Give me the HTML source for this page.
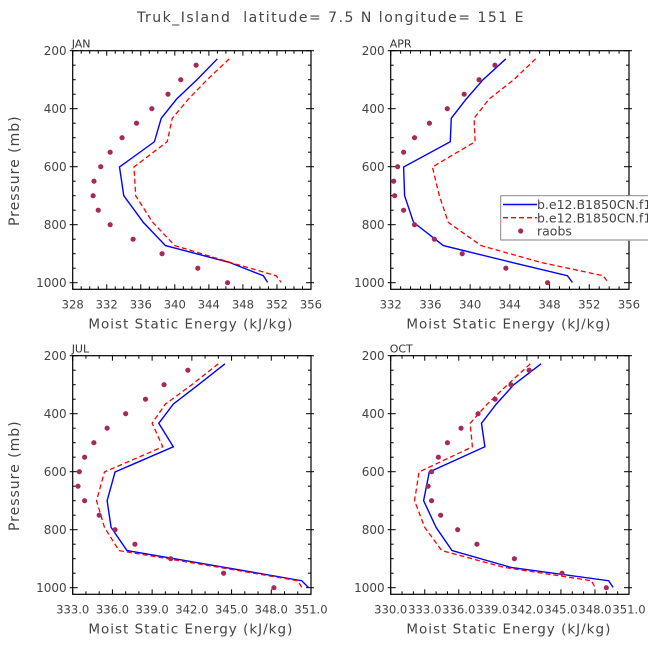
<!DOCTYPE html>
<html><head><meta charset="utf-8"><style>
html,body{margin:0;padding:0;background:#fff;}
svg{display:block;font-family:"DejaVu Sans","Liberation Sans",sans-serif;}
</style></head><body>
<svg id="chart" width="648" height="649" viewBox="0 0 648 649" xmlns="http://www.w3.org/2000/svg">
<text x="331" y="22" text-anchor="middle" font-size="14" letter-spacing="1.5" fill="#444" xml:space="preserve">Truk_Island  latitude= 7.5 N longitude= 151 E</text>
</svg>
<script>
// pressure levels
const modelLevels = [228, 300, 367, 433, 514, 601, 700, 792, 872, 930, 976, 999];
const obsLevels = [250, 300, 350, 400, 450, 500, 550, 600, 650, 700, 750, 800, 850, 900, 950, 1000];
const yTicks = [200, 400, 600, 800, 1000];
// JAN
const janBlue = [345.0, 342.6, 340.2, 338.4, 337.6, 333.5, 334.0, 336.3, 338.9, 346.4, 350.4, 350.9];
const janRed  = [346.4, 343.8, 341.6, 339.7, 339.1, 335.2, 335.4, 337.4, 340.0, 346.5, 351.9, 352.5];
const janObs  = [342.5, 340.7, 339.2, 337.3, 335.5, 333.8, 332.4, 331.3, 330.5, 330.4, 331.0, 332.4, 335.1, 338.5, 342.7, 346.2];
const janTicks = ["328","332","336","340","344","348","352","356"];
// APR
const aprBlue = [343.6, 341.3, 339.6, 338.1, 338.0, 333.3, 333.4, 334.3, 337.3, 344.2, 349.8, 350.3];
const aprRed  = [346.6, 344.4, 341.9, 340.4, 340.5, 336.2, 336.9, 337.8, 341.1, 347.1, 353.4, 353.9];
const aprObs  = [342.5, 340.9, 339.4, 337.7, 335.9, 334.4, 333.3, 332.7, 332.3, 332.4, 333.3, 334.4, 336.4, 339.2, 343.6, 347.8];
const aprTicks = ["332","336","340","344","348","352","356"];
// JUL
const julBlue = [344.5, 342.5, 340.6, 339.5, 340.6, 336.2, 335.6, 335.9, 337.1, 344.5, 350.3, 350.8];
const julRed  = [344.0, 342.0, 340.0, 339.0, 339.8, 335.4, 334.8, 335.4, 336.5, 344.1, 350.0, 350.3];
const julObs  = [341.7, 339.9, 338.5, 337.0, 335.6, 334.6, 333.9, 333.5, 333.4, 333.9, 335.0, 336.2, 337.7, 340.4, 344.4, 348.2];
const julTicks = ["333.0","336.0","339.0","342.0","345.0","348.0","351.0"];
// OCT
const octBlue = [343.25, 340.85, 339.3, 338.0, 338.3, 333.4, 332.9, 334.0, 335.4, 340.6, 349.2, 349.6];
const octRed  = [342.3, 340.3, 338.5, 337.0, 337.2, 332.5, 332.1, 333.0, 334.5, 340.0, 347.7, 348.0];
const octObs  = [342.2, 340.6, 339.2, 337.7, 336.2, 335.0, 334.2, 333.6, 333.3, 333.6, 334.4, 335.9, 337.6, 340.9, 345.1, 349.0];
const octTicks = ["330.0","333.0","336.0","339.0","342.0","345.0","348.0","351.0"];

const NS = "http://www.w3.org/2000/svg";
const svg = document.getElementById("chart");
function mk(tag, attrs, parent){
  const e = document.createElementNS(NS, tag);
  for (const k in attrs) e.setAttribute(k, attrs[k]);
  (parent||svg).appendChild(e);
  return e;
}
const panels = [
  {name:"jan", label:"JAN", x0:72.7, y0:50.7, xmin:328, xmax:356, major:4, minor:1, ticks:janTicks, blue:janBlue, red:janRed, obs:janObs, left:true},
  {name:"apr", label:"APR", x0:390.7, y0:50.7, xmin:332, xmax:356, major:4, minor:1, ticks:aprTicks, blue:aprBlue, red:aprRed, obs:aprObs, left:false},
  {name:"jul", label:"JUL", x0:72.7, y0:355.7, xmin:333, xmax:351, major:3, minor:1, ticks:julTicks, blue:julBlue, red:julRed, obs:julObs, left:true},
  {name:"oct", label:"OCT", x0:390.7, y0:355.7, xmin:330, xmax:351, major:3, minor:1, ticks:octTicks, blue:octBlue, red:octRed, obs:octObs, left:false}
];
const W = 238.3, H = 238.6, pyPer = 0.29, pTop = 200;
panels.forEach(p => {
  const g = mk("g", {});
  
  
  const xs = v => p.x0 + (v - p.xmin) / (p.xmax - p.xmin) * W;
  const ys = v => p.y0 + (v - pTop) * pyPer;
  const clipId = "clip-" + p.name;
  const cp = mk("clipPath", {id: clipId}, g);
  mk("rect", {x:p.x0, y:p.y0, width:W, height:H}, cp);
  const ml = mk("text", {x:p.x0-1, y:p.y0-3, "font-size":11, fill:"#333"}, g);
  ml.textContent = p.label;
  
  
  for (let v = p.xmin; v <= p.xmax + 1e-6; v += p.minor) {
    const isMaj = Math.abs(((v - p.xmin) % p.major)) < 1e-6;
    const L = isMaj ? 5 : 3;
    const x = xs(v);
    mk("line", {x1:x, x2:x, y1:p.y0+H, y2:p.y0+H-L, stroke:"#000", "stroke-width":1}, g);
    mk("line", {x1:x, x2:x, y1:p.y0, y2:p.y0+L, stroke:"#000", "stroke-width":1}, g);
  }
  p.ticks.forEach((t, i) => {
    const tx = mk("text", {x:xs(p.xmin + i*p.major), y:p.y0+H+19, "font-size":11.6, fill:"#444", "text-anchor":"middle"}, g);
    tx.textContent = t;
    
    
  });
  for (let v = 200; v <= 1000; v += 50) {
    const isMaj = v % 200 === 0;
    const L = isMaj ? 5 : 3;
    const y = ys(v);
    mk("line", {x1:p.x0, x2:p.x0+L, y1:y, y2:y, stroke:"#000", "stroke-width":1}, g);
    mk("line", {x1:p.x0+W, x2:p.x0+W-L, y1:y, y2:y, stroke:"#000", "stroke-width":1}, g);
    if (isMaj) {
      mk("line", {x1:p.x0-3, x2:p.x0, y1:y, y2:y, stroke:"#000", "stroke-width":1}, g);
      mk("line", {x1:p.x0+W, x2:p.x0+W+3, y1:y, y2:y, stroke:"#000", "stroke-width":1}, g);
    }
  }
  yTicks.forEach(t => {
    const ty = mk("text", {x:p.x0-6, y:ys(t)+4.5, "font-size":12, fill:"#444", "text-anchor":"end"}, g);
    ty.textContent = t;
    
    
  });
  const fr = mk("rect", {x:p.x0, y:p.y0, width:W, height:H, fill:"none", stroke:"#000", "stroke-width":1.2}, g);
  
  
  const xt = mk("text", {x:p.x0+W/2-1, y:p.y0+H+39, "font-size":13.5, "letter-spacing":1, fill:"#444", "text-anchor":"middle"}, g);
  xt.textContent = "Moist Static Energy (kJ/kg)";
  
  
  if (p.left) {
    const cy = p.y0 + 120;
    const yt = mk("text", {x:19, y:cy, "font-size":14, "letter-spacing":1, fill:"#444", "text-anchor":"middle", transform:"rotate(-90 19 "+cy+")"}, g);
    yt.textContent = "Pressure (mb)";
    
    
  }
  const dg = mk("g", {"clip-path":"url(#"+clipId+")"}, g);
  const bl = mk("polyline", {points: p.blue.map((v,i)=>xs(v)+","+ys(modelLevels[i])).join(" "), fill:"none", stroke:"#0000ff", "stroke-width":1.4}, dg);
  
  
  const rl = mk("polyline", {points: p.red.map((v,i)=>xs(v)+","+ys(modelLevels[i])).join(" "), fill:"none", stroke:"#ff0000", "stroke-width":1.3, "stroke-dasharray":"5,3"}, dg);
  
  
  p.obs.forEach((v,i) => {
    const c = mk("circle", {cx:xs(v), cy:ys(obsLevels[i]), r:2.6, fill:"#a52a5a"}, dg);
    
    
  });
});
const lg = mk("g", {});


mk("rect", {x:500.7, y:195.7, width:160, height:44.3, fill:"#fff", stroke:"#888", "stroke-width":1}, lg);
mk("line", {x1:500.7, x2:648, y1:240, y2:240, stroke:"#aaa", "stroke-width":1.5}, lg);
mk("line", {x1:503, x2:537, y1:204.5, y2:204.5, stroke:"#0000ff", "stroke-width":1.4}, lg);
mk("line", {x1:503, x2:537, y1:217.7, y2:217.7, stroke:"#ff0000", "stroke-width":1.3, "stroke-dasharray":"5,3"}, lg);
mk("circle", {cx:520.7, cy:231, r:2.6, fill:"#a52a5a"}, lg);
const legNames = ["b.e12.B1850CN.f19_g16.ctl", "b.e12.B1850CN.f19_g16.exp", "raobs"];
legNames.forEach((n,i) => {
  const t = mk("text", {x:537, y:209 + i*13.3, "font-size":12.5, fill:"#444"}, lg);
  t.textContent = n;
  
  
});
</script>
</body></html>
